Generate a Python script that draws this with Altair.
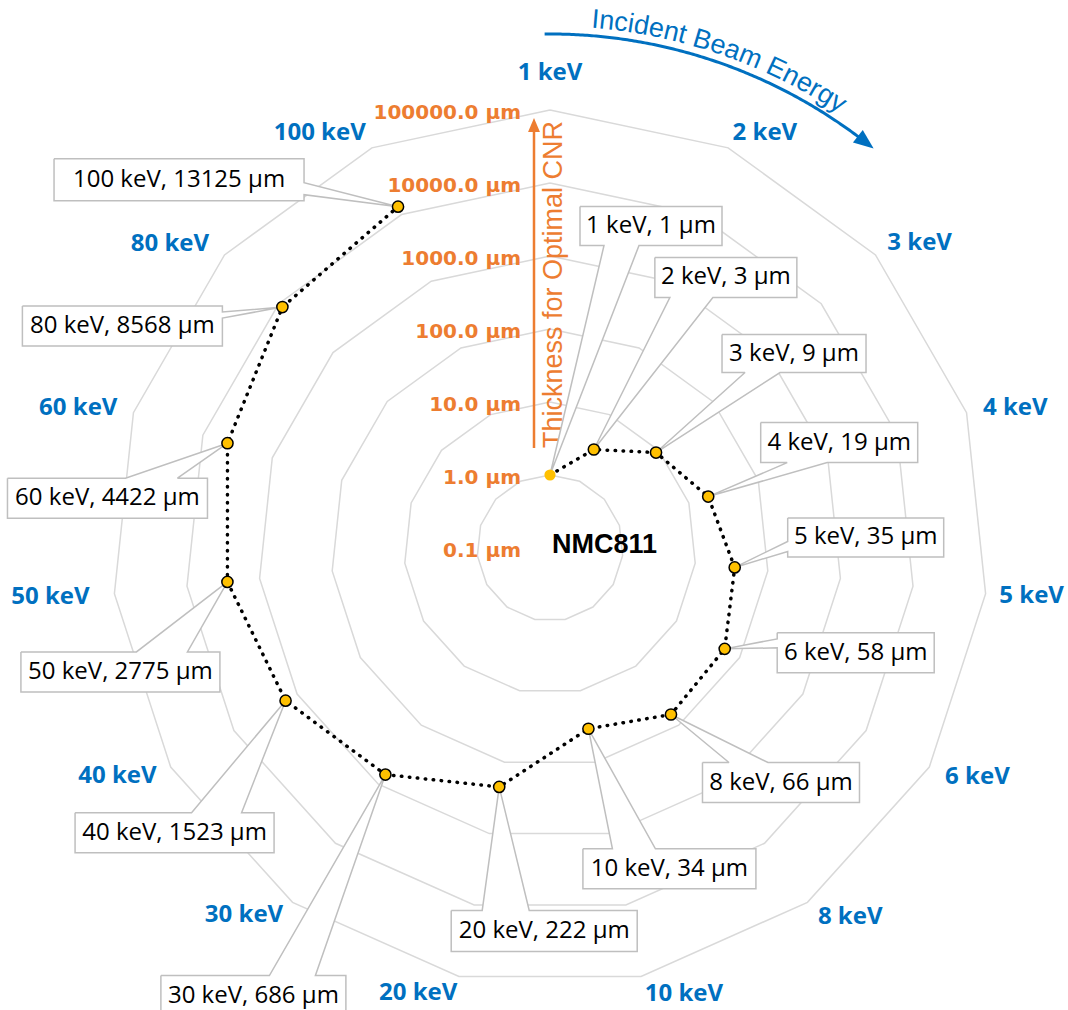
import math

import altair as alt
import pandas as pd

# ---------------- data ----------------
energies = ["1 keV", "2 keV", "3 keV", "4 keV", "5 keV", "6 keV", "8 keV", "10 keV",
            "20 keV", "30 keV", "40 keV", "50 keV", "60 keV", "80 keV", "100 keV"]
thickness_um = [1, 3, 9, 19, 35, 58, 66, 34, 222, 686, 1523, 2775, 4422, 8568, 13125]
ring_values = [0.1, 1, 10, 100, 1000, 10000, 100000]
ring_labels = ["0.1 µm", "1.0 µm", "10.0 µm", "100.0 µm", "1000.0 µm",
               "10000.0 µm", "100000.0 µm"]
sample_name = "NMC811"
radial_title = "Thickness for Optimal CNR"
angular_title = "Incident Beam Energy"

# ---------------- layout ----------------
W, H = 1068, 1010
CX, CY = 550, 548          # pole of the radar in page pixels
DEC = 73.0                 # pixels per decade on the log radial axis
R_MIN = 0.1                # value at the pole
N = len(energies)
STEP = 360.0 / N

BLUE = "#0070C0"
ORANGE = "#ED7D31"
GOLD = "#FFC000"
GRID = "#d9d9d9"
BOX_EDGE = "#bfbfbf"

# category label placement: (radius px, angle deg)
cat_label_pos = [(475, 0), (467, 27.4), (479, 50.5), (486, 73.2), (484, 95.7),
                 (485, 118.2), (476, 140.9), (466, 163.3), (464, 196.5), (478, 219.8),
                 (489, 242.2), (502, 264.4), (492, 286.5), (487, 308.7), (475, 331.0)]

# callouts: box centre offset from its marker (dx right, dy down), box w/h,
# side the pointer leaves from, and the pointer base along that side
callout_layout = [
    (101, -249, 142, 39, "bottom", -47, -12),
    (132, -172, 142, 40, "bottom", -56, -13),
    (138, -99, 144, 38, "bottom", -49, -14),
    (131, -54, 157, 40, "bottom", -52, -12),
    (131, -30, 156, 39, "left", 4, 14),
    (131, 4, 157, 40, "left", -14, -5),
    (110, 68, 157, 40, "top", -52, -13),
    (81, 140, 173, 40, "top", -57, -14),
    (45, 144, 186, 41, "top", -62, -15),
    (-132, 221, 185, 40, "top", 16, 62),
    (-111, 132, 199, 40, "top", 17, 67),
    (-107, 90, 199, 40, "top", 16, 67),
    (-120, 55, 200, 40, "top", 18, 70),
    (-160, 19, 200, 40, "right", -14, -8),
    (-219, -27, 250, 42, "right", 3, 15),
]

# Arial / Liberation Sans advance widths (em) for the curved caption
ARIAL_W = {"I": .278, "n": .556, "c": .5, "i": .222, "d": .556, "e": .556, "t": .278,
           " ": .278, "B": .667, "a": .556, "m": .833, "E": .667, "r": .333,
           "g": .556, "y": .5}


def radius(v):
    return DEC * math.log10(v / R_MIN)


def polar(r, deg):
    a = math.radians(deg)
    return r * math.sin(a), r * math.cos(a)


# markers
pt_rows = []
for i, (e, t) in enumerate(zip(energies, thickness_um)):
    x, y = polar(radius(t), i * STEP)
    pt_rows.append(dict(idx=i, energy=e, thickness=t, x=x, y=y, label=f"{e}, {t} µm"))
pts = pd.DataFrame(pt_rows)

# grid rings (one per decade)
ring_rows = []
for k, v in enumerate(ring_values[1:], start=1):
    for j in range(N + 1):
        x, y = polar(radius(v), (j % N) * STEP)
        ring_rows.append(dict(ring=k, idx=j, x=x, y=y))
rings = pd.DataFrame(ring_rows)

# ring tick labels
ticks = pd.DataFrame([dict(label=lab, x=-29, y=radius(v))
                      for v, lab in zip(ring_values, ring_labels)])

# category labels
cats = pd.DataFrame([dict(energy=e, x=polar(r, a)[0], y=polar(r, a)[1])
                     for e, (r, a) in zip(energies, cat_label_pos)])


# callout shapes (box + pointer as one closed outline)
def callout_shape(px, py, dx, dy, w, h, side, b1, b2):
    bx, by = px + dx, py - dy
    L, R, T, B = bx - w / 2, bx + w / 2, by + h / 2, by - h / 2
    tip = (px, py)
    TL, TR, BR, BL = (L, T), (R, T), (R, B), (L, B)
    if side == "top":
        seq = [TL, (bx + b1, T), tip, (bx + b2, T), TR, BR, BL]
    elif side == "right":
        seq = [TL, TR, (R, by - b1), tip, (R, by - b2), BR, BL]
    elif side == "bottom":
        seq = [TL, TR, BR, (bx + b2, B), tip, (bx + b1, B), BL]
    else:
        seq = [TL, TR, BR, BL, (L, by - b2), tip, (L, by - b1)]
    seq.append(TL)
    return seq, (bx, by)


shape_rows, text_rows = [], []
for p, lay in zip(pt_rows, callout_layout):
    seq, (bx, by) = callout_shape(p["x"], p["y"], *lay)
    for j, (x, y) in enumerate(seq):
        shape_rows.append(dict(cid=p["idx"], idx=j, x=x, y=y))
    text_rows.append(dict(label=p["label"], x=bx, y=by))
shapes = pd.DataFrame(shape_rows)
box_text = pd.DataFrame(text_rows)

# blue arc arrow around the outside
ARC_R = 514
arc = pd.DataFrame([dict(idx=j, x=polar(ARC_R, -0.6 + j * 0.25)[0],
                         y=polar(ARC_R, -0.6 + j * 0.25)[1]) for j in range(153)])
HEAD_A = 37.9
arc_head = pd.DataFrame([dict(x=polar(ARC_R, HEAD_A)[0], y=polar(ARC_R, HEAD_A)[1],
                              rot=HEAD_A + 90)])

# curved caption, one glyph per row
TXT_R, TXT_A0, TXT_FS = 522, 4.5, 27
char_rows, s = [], 0.0
for ch in angular_title:
    w = ARIAL_W[ch] * TXT_FS
    a = TXT_A0 + math.degrees((s + w / 2) / TXT_R)
    x, y = polar(TXT_R, a)
    char_rows.append(dict(ch=ch, x=x, y=y, rot=a))
    s += w
chars = pd.DataFrame([r for r in char_rows if r["ch"] != " "])

# radial axis arrow and captions
axis_line = pd.DataFrame([dict(x=-16, y=100, y2=420)])
axis_head = pd.DataFrame([dict(x=-16, y=423)])
axis_title = pd.DataFrame([dict(t=radial_title, x=12, y=263.5)])
centre_title = pd.DataFrame([dict(t=sample_name, x=2, y=-5)])

# ---------------- chart ----------------
XS = alt.Scale(domain=[-CX, W - CX], nice=False, zero=False)
YS = alt.Scale(domain=[CY - H, CY], nice=False, zero=False)


def xy():
    return dict(x=alt.X("x:Q", scale=XS, axis=None), y=alt.Y("y:Q", scale=YS, axis=None))


ring_layer = alt.Chart(rings).mark_line(stroke=GRID, strokeWidth=1.5).encode(
    **xy(), detail="ring:N", order="idx:Q")

tick_layer = alt.Chart(ticks).mark_text(
    font="DejaVu Sans", fontWeight="bold", fontSize=20, color=ORANGE,
    align="right", baseline="middle", dy=3).encode(**xy(), text="label:N")

cat_layer = alt.Chart(cats).mark_text(
    font="Open Sans", fontWeight="bold", fontSize=24, color=BLUE,
    align="center", baseline="middle").encode(**xy(), text="energy:N")

axis_rule = alt.Chart(axis_line).mark_rule(color=ORANGE, strokeWidth=2.5).encode(
    x=alt.X("x:Q", scale=XS, axis=None), y=alt.Y("y:Q", scale=YS, axis=None),
    y2="y2:Q")

axis_arrow = alt.Chart(axis_head).mark_point(
    shape="M0,-1L0.85,1L-0.85,1Z", filled=True, fill=ORANGE, strokeWidth=0,
    size=196, opacity=1).encode(**xy())

axis_caption = alt.Chart(axis_title).mark_text(
    font="Liberation Sans", fontSize=27, color=ORANGE, angle=270,
    align="center", baseline="alphabetic").encode(**xy(), text="t:N")

centre_caption = alt.Chart(centre_title).mark_text(
    font="Liberation Sans", fontWeight="bold", fontSize=27, color="black",
    align="left", baseline="alphabetic").encode(**xy(), text="t:N")

arc_layer = alt.Chart(arc).mark_line(color=BLUE, strokeWidth=3).encode(
    **xy(), order="idx:Q")

arc_arrow = alt.Chart(arc_head).mark_point(
    shape="M0,-1L0.8,1L-0.8,1Z", filled=True, fill=BLUE, strokeWidth=0,
    size=400, opacity=1).encode(**xy(), angle=alt.Angle("rot:Q", scale=None))

arc_caption = alt.Chart(chars).mark_text(
    font="Liberation Sans", fontSize=TXT_FS, color=BLUE,
    align="center", baseline="alphabetic").encode(
    **xy(), text="ch:N", angle=alt.Angle("rot:Q", scale=None))

callout_layer = alt.Chart(shapes).mark_line(
    fill="white", stroke=BOX_EDGE, strokeWidth=1.5, strokeJoin="miter",
    strokeMiterLimit=2).encode(**xy(), detail="cid:N", order="idx:Q")

series_line = alt.Chart(pts).mark_line(
    color="black", strokeWidth=3.5, strokeDash=[0.5, 7.5], strokeCap="round").encode(
    **xy(), order="idx:Q")

markers = alt.Chart(pts).mark_point(
    shape="circle", filled=True, fill=GOLD, stroke="black", size=125, opacity=1).encode(
    **xy(),
    strokeWidth=alt.condition(alt.datum.idx == 0, alt.value(0), alt.value(1.5)))

callout_text = alt.Chart(box_text).mark_text(
    font="Open Sans", fontSize=24, color="black",
    align="center", baseline="middle").encode(**xy(), text="label:N")

chart = alt.layer(
    ring_layer, tick_layer, cat_layer, axis_rule, axis_arrow, axis_caption,
    centre_caption, arc_layer, arc_arrow, arc_caption,
    callout_layer, series_line, markers, callout_text,
).properties(
    width=W, height=H, autosize=alt.AutoSizeParams(type="none"), padding=0,
    background="white",
).configure_view(stroke=None)

chart.save("out.html", embed_options={"renderer": "svg", "actions": False})
